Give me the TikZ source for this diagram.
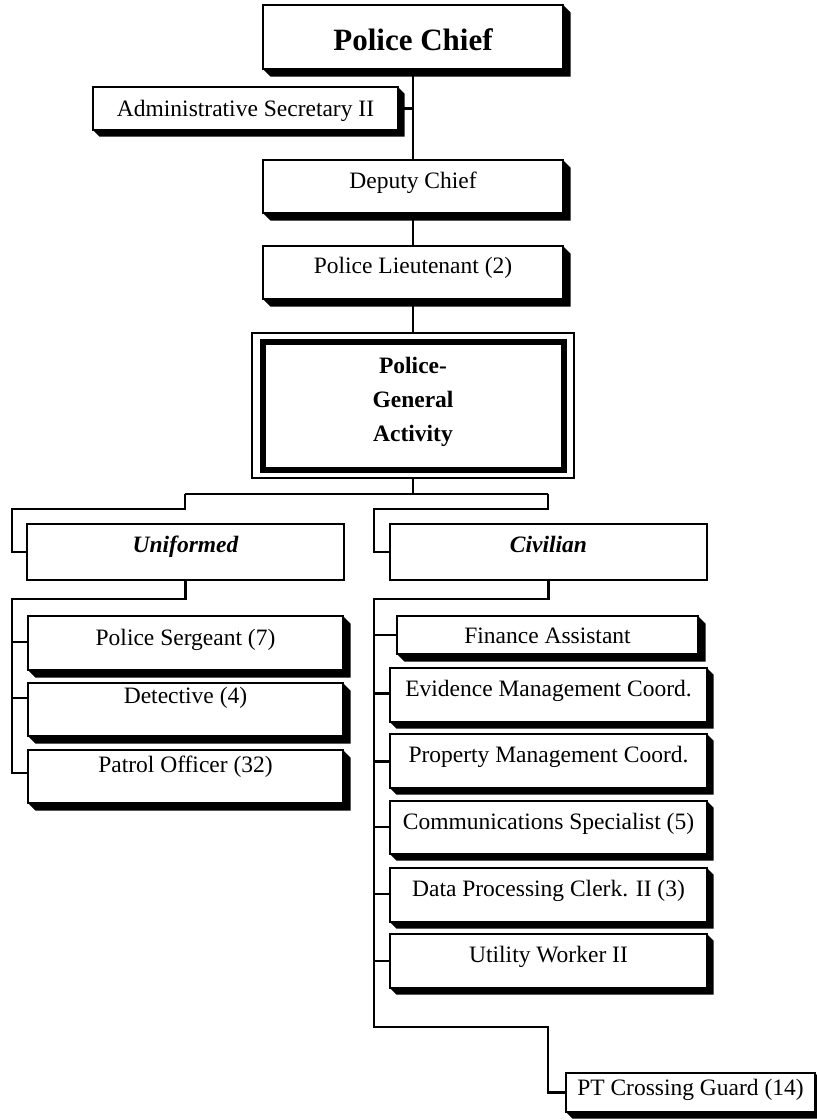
\documentclass[tikz,border=0pt]{standalone}
\usepackage{fontspec}
\setmainfont{Liberation Serif}
\usetikzlibrary{calc}
\pgfdeclarelayer{paper}
\pgfdeclarelayer{shade}
\pgfsetlayers{paper,shade,main}

\tikzset{
  orgbox/.style={draw, line width=2.3pt, fill=white, rectangle, inner sep=0pt, outer sep=0pt},
  link/.style={line width=2.3pt},
  lbl/.style={anchor=base, inner sep=0pt, font=\fontsize{23.5}{28}\selectfont},
  headlbl/.style={lbl, font=\fontsize{23.5}{28}\selectfont\bfseries},
  grouplbl/.style={lbl, font=\fontsize{23.5}{28}\selectfont\bfseries\itshape},
}

% box from its corners: name, x1, y1, x2, y2, extra options
\newcommand\orgnode[6]{%
  \node[orgbox, minimum width={(#4-#2)*1pt}, minimum height={(#5-#3)*1pt}, #6]
    (#1) at ({(#2+#4)/2},{(#3+#5)/2}) {};}

% solid extruded shadow below and right of a box
\newcommand\dropshade[2]{%
  \begin{pgfonlayer}{shade}
  \fill (#1.south west) -- ++(#2,#2) -- ($(#1.south east)+(#2,#2)$)
        -- ($(#1.north east)+(#2,#2)$) -- (#1.north east) -- cycle;
  \end{pgfonlayer}}

\begin{document}
\begin{tikzpicture}[x=1pt, y=-1pt]
\begin{pgfonlayer}{paper}
  \fill[white] (0,0) rectangle (817,1120);
\end{pgfonlayer}
\useasboundingbox (0,0) rectangle (817,1120);

% --- command chain ---
\orgnode{chief}{263}{5}{563}{69}{line width=2.8pt}
\dropshade{chief}{7.5}
\node[lbl, font=\fontsize{31}{36}\selectfont\bfseries] (chief-t) at (413,50) {Police Chief};

\orgnode{admin}{93}{87}{398}{130}{}
\dropshade{admin}{6.5}
\node[lbl] (admin-t) at (245.5,116) {Administrative Secretary II};

\orgnode{deputy}{263}{160}{563}{213}{}
\dropshade{deputy}{7.5}
\node[lbl] (deputy-t) at (413,188) {Deputy Chief};

\orgnode{lieut}{263}{246}{563}{299}{}
\dropshade{lieut}{7.5}
\node[lbl] (lieut-t) at (413,273) {Police Lieutenant (2)};

\orgnode{pgaout}{252}{333}{574}{478}{line width=1.6pt}
\orgnode{pga}{262.5}{342}{563.5}{469.5}{line width=6pt}
\node[headlbl] (pga-1) at (413,373.3) {Police-};
\node[headlbl] (pga-2) at (413,407.2) {General};
\node[headlbl] (pga-3) at (413,441) {Activity};

\draw[link] (chief.south) -- (deputy.north);
\draw[link] (admin.east) -- (admin.east -| chief.south);
\draw[link] (deputy.south) -- (lieut.north);
\draw[link] (lieut.south) -- (pgaout.north);

% --- groups ---
\orgnode{unif}{27}{524}{344}{580}{}
\node[grouplbl] (unif-t) at (185.5,552.3) {Uniformed};
\orgnode{civ}{390}{524}{707}{580}{}
\node[grouplbl] (civ-t) at (548.5,552.3) {Civilian};

\coordinate (split) at (413,494);
\coordinate (ubar) at (185,494);
\coordinate (cbar) at (548,494);
\coordinate (uleft) at (12,509);
\coordinate (cleft) at (374,509);
\draw[link] (pgaout.south) -- (split);
\draw[link] (ubar) -- (cbar);
\draw[link] (ubar) |- (uleft) |- (unif.west);
\draw[link] (cbar) |- (cleft) |- (civ.west);

% --- uniformed staff ---
\orgnode{serg}{28}{616}{343}{670}{}
\dropshade{serg}{7.5}
\node[lbl] (serg-t) at (185.5,645) {Police Sergeant (7)};
\orgnode{detect}{28}{683}{343}{736}{}
\dropshade{detect}{7.5}
\node[lbl] (detect-t) at (185.5,703) {Detective (4)};
\orgnode{patrol}{28}{750}{343}{803}{}
\dropshade{patrol}{7.5}
\node[lbl] (patrol-t) at (185.5,772) {Patrol Officer (32)};

\coordinate (utop) at (12,599);
\coordinate (ut1) at (12,642);
\coordinate (ut2) at (12,698);
\coordinate (ut3) at (12,773);
\draw[link] (unif.south) |- (utop) -- (ut3) -- (ut3 -| patrol.west);
\draw[link] (ut1) -- (ut1 -| serg.west);
\draw[link] (ut2) -- (ut2 -| detect.west);

% --- civilian staff ---
\orgnode{fin}{397}{616}{698}{654}{}
\dropshade{fin}{7.5}
\node[lbl] (fin-t) at (547.5,643) {Finance Assistant};
\orgnode{evid}{390}{668}{707}{722}{}
\dropshade{evid}{6.5}
\node[lbl] (evid-t) at (548.5,696.7) {Evidence Management Coord.};
\orgnode{prop}{390}{734}{707}{788}{}
\dropshade{prop}{6.5}
\node[lbl] (prop-t) at (548.5,762.3) {Property Management Coord.};
\orgnode{comm}{390}{801}{707}{854}{}
\dropshade{comm}{6.5}
\node[lbl] (comm-t) at (548.5,829.3) {Communications Specialist (5)};
\orgnode{data}{390}{868}{707}{922}{}
\dropshade{data}{6.5}
\node[lbl] (data-t) at (548.5,896.7) {Data Processing Clerk. II (3)};
\orgnode{util}{390}{934}{707}{988}{}
\dropshade{util}{6.5}
\node[lbl] (util-t) at (548.5,962.3) {Utility Worker II};
\orgnode{guard}{566}{1073}{815}{1112}{}
\dropshade{guard}{6.5}
\node[lbl] (guard-t) at (690.5,1095) {PT Crossing Guard (14)};

\coordinate (ctop) at (374,599);
\coordinate (cbot) at (374,1027);
\coordinate (cbend) at (548,1027);
\coordinate (ct1) at (374,635);
\coordinate (ct2) at (374,693.5);
\coordinate (ct3) at (374,761.5);
\coordinate (ct4) at (374,827);
\coordinate (ct5) at (374,894);
\coordinate (ct6) at (374,961);
\draw[link] (civ.south) |- (ctop) -- (cbot) -- (cbend) |- (guard.west);
\draw[link] (ct1) -- (ct1 -| fin.west);
\draw[link] (ct2) -- (ct2 -| evid.west);
\draw[link] (ct3) -- (ct3 -| prop.west);
\draw[link] (ct4) -- (ct4 -| comm.west);
\draw[link] (ct5) -- (ct5 -| data.west);
\draw[link] (ct6) -- (ct6 -| util.west);
\end{tikzpicture}
\end{document}
